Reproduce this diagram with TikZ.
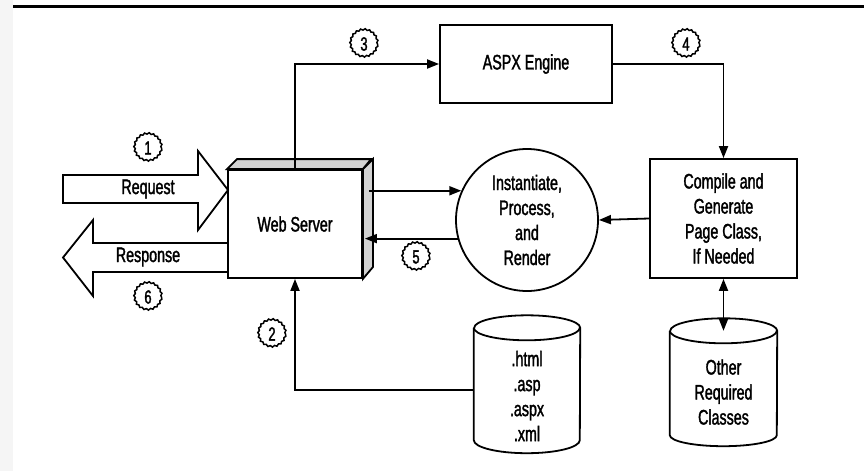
\documentclass[tikz,border=0pt]{standalone}
\usepackage{fontspec}
\setmainfont{Liberation Sans}[FakeStretch=0.68, FakeBold=1.6]
\usetikzlibrary{arrows.meta,decorations.pathmorphing,calc}
\begin{document}
\begin{tikzpicture}[x=1pt,y=-1pt,
  every node/.style={font=\fontsize{21}{25}\selectfont, align=center},
  ln/.style={line width=1.8pt, line join=miter},
  arr/.style={ln, -{Triangle[length=12pt,width=9pt]}},
  arrb/.style={ln, {Triangle[length=12pt,width=9pt]}-{Triangle[length=12pt,width=9pt]}},
  boxnode/.style={draw, line width=1.8pt, rectangle, inner sep=0pt},
  num/.style={circle, draw, line width=1.5pt, minimum size=27pt, inner sep=0pt,
    font=\fontsize{19}{19}\selectfont, decorate,
    decoration={snake, amplitude=0.7pt, segment length=4.4pt}},
  bevel/.style={fill=gray!35, draw, line width=1.8pt, line join=miter},
  plain/.style={inner sep=0pt}
]
\useasboundingbox (0,0) rectangle (864,471);
% left strip and top rule
\fill[gray!8] (0,0) rectangle (13,471);
\draw[line width=2.5pt] (13,6.5) -- (864,6.5);

% Web server (3D box)
\node[boxnode, minimum width=134pt, minimum height=108pt] (web) at (295,224) {Web Server};
\draw[bevel] (web.north west) -- ++(10,-10) -- ++(134,0) -- (web.north east) -- cycle;
\draw[bevel] (web.north east) -- ++(10,-10) -- ++(0,108) -- (web.south east) -- cycle;

% ASPX engine
\node[boxnode, minimum width=172pt, minimum height=78pt] (aspx) at (526,64) {ASPX Engine};

% Compile box
\node[boxnode, minimum width=147pt, minimum height=119pt] (compile) at (723.5,218.5)
  {Compile and\\Generate\\Page Class,\\If Needed};

% Process circle
\node[circle, draw, line width=1.8pt, minimum size=142pt, inner sep=0pt] (proc) at (527,220)
  {Instantiate,\\Process,\\and\\Render};

% Cylinder 1
\node[plain, minimum width=106pt, minimum height=112pt] (db1) at (527,384) {};
\draw[ln, fill=white] (db1.north west) -- (db1.south west)
  arc[start angle=180, end angle=360, x radius=53pt, y radius=13pt]
  -- (db1.north east)
  arc[start angle=0, end angle=180, x radius=53pt, y radius=12.5pt];
\draw[ln] (db1.north west) arc[start angle=180, end angle=360, x radius=53pt, y radius=12.5pt];
\node[plain] (db1txt) at (527,396) {.html\\.asp\\.aspx\\.xml};

% Cylinder 2
\node[plain, minimum width=107pt, minimum height=104pt] (db2) at (723.5,383) {};
\draw[ln, fill=white] (db2.north west) -- (db2.south west)
  arc[start angle=180, end angle=360, x radius=53.5pt, y radius=11pt]
  -- (db2.north east)
  arc[start angle=0, end angle=180, x radius=53.5pt, y radius=12.5pt];
\draw[ln] (db2.north west) arc[start angle=180, end angle=360, x radius=53.5pt, y radius=12.5pt];
\node[plain] (db2txt) at (723.5,392) {Other\\Required\\Classes};

% Request / Response big arrows
\draw[ln] (63,175) -- (198,175) -- (198,151) -- (228,190) -- (198,230) -- (198,203) -- (63,203) -- cycle;
\node[plain] (req) at (148,189) {Request};
\draw[ln] (228,243) -- (93,243) -- (93,220) -- (63,257.5) -- (93,296) -- (93,272) -- (228,272);
\node[plain] (resp) at (148,257) {Response};

% connectors
\coordinate (wsA) at ([xshift=6pt]web.east);
\coordinate (wsB) at ([xshift=2pt]web.east);
\draw[arr] (web.north) |- (aspx.west);
\draw[arr] (aspx.east) -| (compile.north);
\draw[arr] (wsA |- proc.156) -- (proc.156);
\draw[arr] (proc.195) -- (wsB |- proc.195);
\draw[arr] (compile.west) -- (proc.east);
\draw[arr] ([yshift=-6pt]db1.west) -| (web.south);
\draw[arrb] (compile.south) -- (db2.north);

% numbers
\node[num] (n1) at (148,148) {1};
\node[num] (n2) at (272,334) {2};
\node[num] (n3) at (364,44) {3};
\node[num] (n4) at (686,44) {4};
\node[num] (n5) at (416,257) {5};
\node[num] (n6) at (148,297) {6};
\end{tikzpicture}
\end{document}
